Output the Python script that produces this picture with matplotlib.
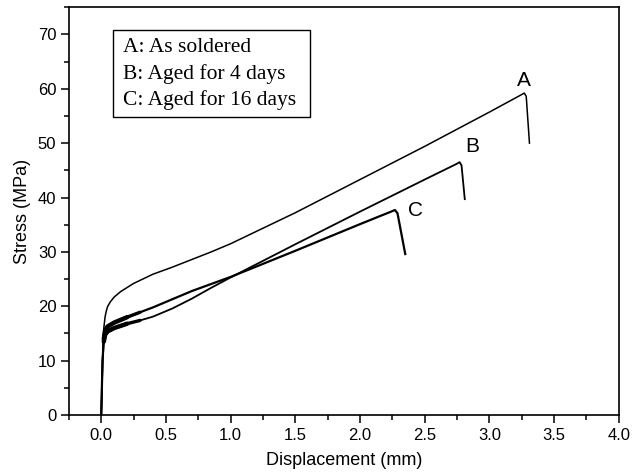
import matplotlib.pyplot as plt
from matplotlib.patches import Rectangle
from matplotlib.ticker import MultipleLocator

# Curve A: as soldered
a_disp = [0, 0.005, 0.01, 0.015, 0.02, 0.03, 0.04, 0.05, 0.07, 0.1, 0.15, 0.25,
          0.4, 0.55, 0.7, 0.85, 1.0, 1.5, 2.0, 2.5, 3.0, 3.24, 3.27, 3.285, 3.31]
a_stress = [0, 4, 9, 13.8, 16, 18.1, 19.2, 20, 20.8, 21.7, 22.7, 24.2,
            25.9, 27.2, 28.6, 30.0, 31.5, 37.2, 43.3, 49.4, 55.7, 58.8, 59.2, 58.6, 50.0]

# Curve B: aged for 4 days
b_disp = [0, 0.005, 0.01, 0.02, 0.03, 0.05, 0.1, 0.2, 0.3, 0.4, 0.55, 0.7, 0.85, 1.0,
          1.5, 2.0, 2.5, 2.74, 2.77, 2.785, 2.81]
b_stress = [0, 5, 10, 13.5, 14.8, 15.4, 16.0, 16.8, 17.4, 18.1, 19.6, 21.4, 23.4, 25.3,
            31.4, 37.4, 43.3, 46.1, 46.5, 45.9, 39.7]

# Curve C: aged for 16 days
c_disp = [0, 0.005, 0.01, 0.02, 0.03, 0.05, 0.1, 0.2, 0.3, 0.4, 0.55, 0.7, 0.85, 1.0,
          1.5, 2.0, 2.24, 2.27, 2.29, 2.35]
c_stress = [0, 5, 10, 14, 15.6, 16.3, 17.0, 18.0, 18.9, 19.8, 21.3, 22.8, 24.1, 25.4,
            30.2, 35.1, 37.4, 37.7, 37.1, 29.6]

legend_lines = ["A: As soldered", "B: Aged for 4 days", "C: Aged for 16 days"]
curve_tags = ["A", "B", "C"]
tag_x = [3.27, 2.87, 2.43]
tag_y = [61.5, 49.3, 37.6]

fig = plt.figure(figsize=(6.32, 4.76), dpi=100)
ax = fig.add_axes([0.109, 0.128, 0.870, 0.857])

ax.plot(a_disp, a_stress, color='black', lw=1.1)
ax.plot(b_disp, b_stress, color='black', lw=1.3)
ax.plot(c_disp, c_stress, color='black', lw=1.6)

# noisy start of B and C drawn heavier
ax.plot(b_disp[3:9], b_stress[3:9], color='black', lw=2.4, solid_capstyle='round')
ax.plot(c_disp[3:9], c_stress[3:9], color='black', lw=2.4, solid_capstyle='round')
ax.plot(b_disp[3:8], b_stress[3:8], color='black', lw=3.2, solid_capstyle='round')
ax.plot(c_disp[3:8], c_stress[3:8], color='black', lw=3.2, solid_capstyle='round')

for t, x, y in zip(curve_tags, tag_x, tag_y):
    ax.text(x, y, t, fontsize=15, family='Liberation Sans',
            ha='center', va='center')

ax.set_xlim(-0.25, 4.0)
ax.set_ylim(0, 75)
ax.xaxis.set_minor_locator(MultipleLocator(0.25))
ax.yaxis.set_major_locator(MultipleLocator(10))
ax.yaxis.set_minor_locator(MultipleLocator(5))
ax.set_xticks([0, 0.5, 1.0, 1.5, 2.0, 2.5, 3.0, 3.5, 4.0])
ax.set_xticklabels(['0.0', '0.5', '1.0', '1.5', '2.0', '2.5', '3.0', '3.5', '4.0'])
ax.tick_params(which='both', direction='out', top=False, right=False,
               width=1.1, labelsize=12)
ax.tick_params(which='major', length=5.5)
ax.tick_params(which='minor', length=3.5)
for lab in ax.get_xticklabels() + ax.get_yticklabels():
    lab.set_family('Liberation Sans')
for s in ax.spines.values():
    s.set_linewidth(1.2)

ax.set_xlabel('Displacement (mm)', fontsize=13, family='Liberation Sans',
              labelpad=7)
ax.set_ylabel('Stress (MPa)', fontsize=13, family='Liberation Sans',
              labelpad=5)

# legend box
ax.add_patch(Rectangle((0.080, 0.730), 0.358, 0.214, transform=ax.transAxes,
                       fill=False, edgecolor='black', lw=1.0))
for i, line in enumerate(legend_lines):
    ax.text(0.098, 0.902 - i * 0.065, line, transform=ax.transAxes,
            fontsize=15.5, family='Liberation Serif', va='center', ha='left')

fig.savefig('out.png', dpi=100)
